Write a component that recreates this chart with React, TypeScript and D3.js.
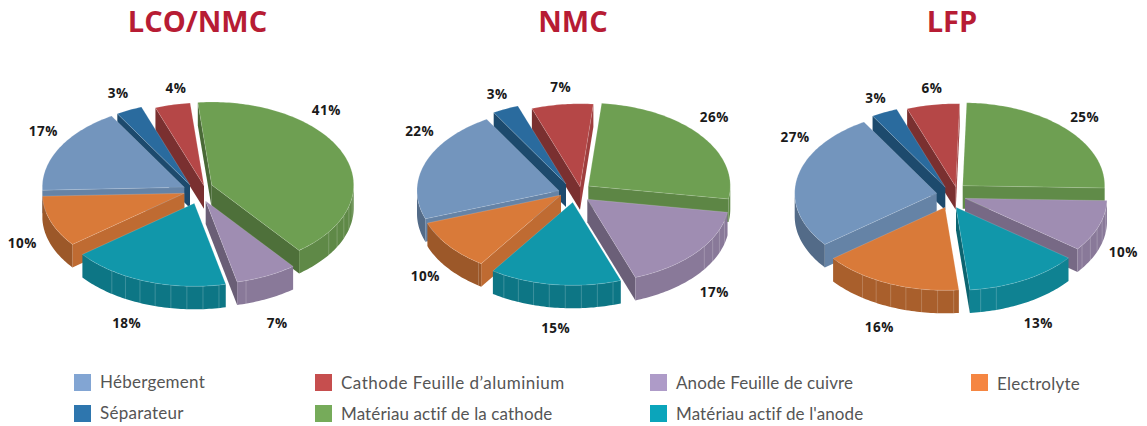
import React from "react";
import * as d3 from "d3";

const titles = ["LCO/NMC", "NMC", "LFP"];
const categories = [
  "Matériau actif de la cathode",
  "Anode Feuille de cuivre",
  "Matériau actif de l'anode",
  "Electrolyte",
  "Hébergement",
  "Séparateur",
  "Cathode Feuille d’aluminium",
];
const lcoNmc = [41, 7, 18, 10, 17, 3, 4];
const nmc = [26, 17, 15, 10, 22, 3, 7];
const lfp = [25, 10, 13, 16, 27, 3, 6];
const seriesList = [lcoNmc, nmc, lfp];

const topColors = ["#6e9f52", "#9f8db2", "#1197aa", "#d97a39", "#7395bd", "#2a6b9e", "#b54747"];
const legendColors = ["#76ab5a", "#ae9bc8", "#0ba5bb", "#f58642", "#82a5d3", "#2e76ae", "#c64e4e"];

// Layout only: where each pie sits, how far it is rotated, and how each wedge is pulled out.
const W = 1147, H = 426, RX = 142, RY = 83, DEPTH = 23;
const centers = [[187, 190], [566, 190], [945, 190]];
const rotationDeg = [-5.6, 5.4, 1.6];
const pull = [
  [[24.7, -5], [18.7, 11], [7.3, 13.3], [-2.7, 3.3], [-2.7, -2.7], [3, -5], [17, -4.3]],
  [[22.3, -4], [21.3, 9.3], [6.7, 12.3], [-5, 5], [-7, 0.7], [0, -6], [14, -3.3]],
  [[17.7, -4.3], [20, 8.3], [11, 17.3], [0, 17.3], [-8.3, 3.3], [0.3, -2.7], [10.7, -3.3]],
];
const labelAt = [
  [[326.3, 110], [277.3, 323], [126.7, 323], [22.3, 243], [43.3, 131], [118.3, 93], [176, 88]],
  [[714.3, 117], [714.3, 292], [555.7, 328], [425.3, 276], [419.7, 131], [497.3, 94], [560.7, 87]],
  [[1084.7, 117], [1123.3, 252], [1038.3, 323], [879.3, 327], [795, 137], [875.7, 98], [932, 88]],
];
const legendRows = [
  { cat: 4, sx: 74, sy: 374, base: 14, ls: 0.25 },
  { cat: 5, sx: 74, sy: 405, base: 14, ls: 0.25 },
  { cat: 6, sx: 315, sy: 374, base: 14.5, ls: 0.5 },
  { cat: 0, sx: 315, sy: 405, base: 14.5, ls: 0.12 },
  { cat: 1, sx: 650, sy: 374, base: 14.5, ls: 0.12 },
  { cat: 2, sx: 650, sy: 405, base: 14.5, ls: 0.12 },
  { cat: 3, sx: 971, sy: 374, base: 15.5, ls: 0.25 },
];

const shade = (c: string, k: number) => {
  const rgb = d3.rgb(c);
  return d3.rgb(rgb.r * k, rgb.g * k, rgb.b * k).formatHex();
};
const sx = d3.scaleLinear().domain([-1, 1]).range([-RX, RX]);
const sy = d3.scaleLinear().domain([-1, 1]).range([-RY, RY]);
const pt = (ax: number, ay: number, t: number, dz = 0): [number, number] => [
  ax + sx(Math.sin(t)),
  ay + sy(-Math.cos(t)) + dz,
];
const arcPts = (ax: number, ay: number, t0: number, t1: number, dz = 0) => {
  const n = Math.max(2, Math.ceil((t1 - t0) / 0.02));
  return d3.range(n + 1).map((i) => pt(ax, ay, t0 + ((t1 - t0) * i) / n, dz));
};
const line = d3.line();
const wallK = (t: number) => {
  const d = ((t * 180) / Math.PI) % 360;
  return d < 185 ? 0.86 : d < 222 ? 0.78 : 0.72;
};
const radialK = (normal: number) => {
  const s = Math.sin(normal);
  return s >= 0 ? 0.88 : 0.88 + 0.22 * s;
};
// Facet seams on the wall, on a fixed angular grid.
const seamDegrees = d3.range(98.5, 216, 6.5).filter((d) => d < 127 || d > 158);

function Pie3D({ idx }: { idx: number }) {
  const [cx, cy] = centers[idx];
  const rot = (rotationDeg[idx] * Math.PI) / 180;
  const arcs = d3
    .pie<number>()
    .sort(null)
    .startAngle(rot)
    .endAngle(rot + 2 * Math.PI)(seriesList[idx]);
  const order = d3
    .range(arcs.length)
    .sort((a, b) =>
      d3.descending(
        Math.cos((arcs[a].startAngle + arcs[a].endAngle) / 2),
        Math.cos((arcs[b].startAngle + arcs[b].endAngle) / 2)
      )
    );
  const TAU = 2 * Math.PI;
  return (
    <g>
      {order.map((i) => {
        const a = arcs[i];
        const [dx, dy] = pull[idx][i];
        const ax = cx + dx, ay = cy + dy;
        const col = topColors[i];
        const t0 = a.startAngle, t1 = a.endAngle;
        const startVisible = Math.sin(t0) < 0;
        const endVisible = Math.sin(t1) > 0;
        const walls: [number, number][] = [];
        for (const shift of [0, TAU]) {
          const lo = Math.max(t0, Math.PI / 2 + shift);
          const hi = Math.min(t1, (3 * Math.PI) / 2 + shift);
          if (hi > lo) walls.push([lo, hi]);
        }
        const facets = seamDegrees
          .map((d) => (d * Math.PI) / 180)
          .filter((t) => t > t0 + 0.02 && t < t1 - 0.02);
        const quad = (t: number) =>
          line([[ax, ay], pt(ax, ay, t), pt(ax, ay, t, DEPTH), [ax, ay + DEPTH]]) + "Z";
        return (
          <g key={i}>
            {startVisible && (
              <path d={quad(t0)} fill={shade(col, radialK(t0 - Math.PI / 2))} />
            )}
            {endVisible && (
              <path d={quad(t1)} fill={shade(col, radialK(t1 + Math.PI / 2))} />
            )}
            {walls.map(([lo, hi], w) => (
              <path
                key={w}
                d={line([...arcPts(ax, ay, lo, hi), ...arcPts(ax, ay, lo, hi, DEPTH).reverse()]) + "Z"}
                fill={shade(col, wallK((lo + hi) / 2))}
              />
            ))}
            {facets.map((t) => {
              const p = pt(ax, ay, t);
              return (
                <line key={t} x1={p[0]} x2={p[0]} y1={p[1]} y2={p[1] + DEPTH}
                  stroke="#fff" strokeOpacity={0.25} strokeWidth={0.8} />
              );
            })}
            <path
              d={line([[ax, ay], ...arcPts(ax, ay, t0, t1)]) + "Z"}
              fill={col}
              stroke="#fff"
              strokeOpacity={0.22}
              strokeWidth={0.7}
            />
          </g>
        );
      })}
      {arcs.map((a, i) => (
        <text
          key={i}
          x={labelAt[idx][i][0]}
          y={labelAt[idx][i][1]}
          textAnchor="middle"
          dominantBaseline="central"
          fontFamily="'Open Sans', sans-serif"
          fontWeight={700}
          fontSize={13.5}
          letterSpacing={0.5}
          fill="#1a1a1a"
        >
          {a.data}%
        </text>
      ))}
      <text
        x={[197.5, 573, 952][idx]}
        y={32}
        textAnchor="middle"
        fontFamily="'Open Sans', sans-serif"
        fontWeight={700}
        fontSize={29}
        fill="#b71c34"
      >
        {titles[idx]}
      </text>
    </g>
  );
}

export default function App() {
  return (
    <svg
      width={W}
      height={H}
      viewBox={`0 0 ${W} ${H}`}
      style={{ position: "fixed", left: 0, top: 0, background: "#fff" }}
    >
      {titles.map((_, i) => (
        <Pie3D key={i} idx={i} />
      ))}
      {legendRows.map((r) => (
        <g key={r.cat}>
          <rect x={r.sx} y={r.sy} width={17} height={17} fill={legendColors[r.cat]} />
          <text
            x={r.sx + 26}
            y={r.sy + r.base}
            fontFamily="Lato, sans-serif"
            fontSize={17}
            letterSpacing={r.ls}
            fill="#555"
          >
            {categories[r.cat]}
          </text>
        </g>
      ))}
    </svg>
  );
}
